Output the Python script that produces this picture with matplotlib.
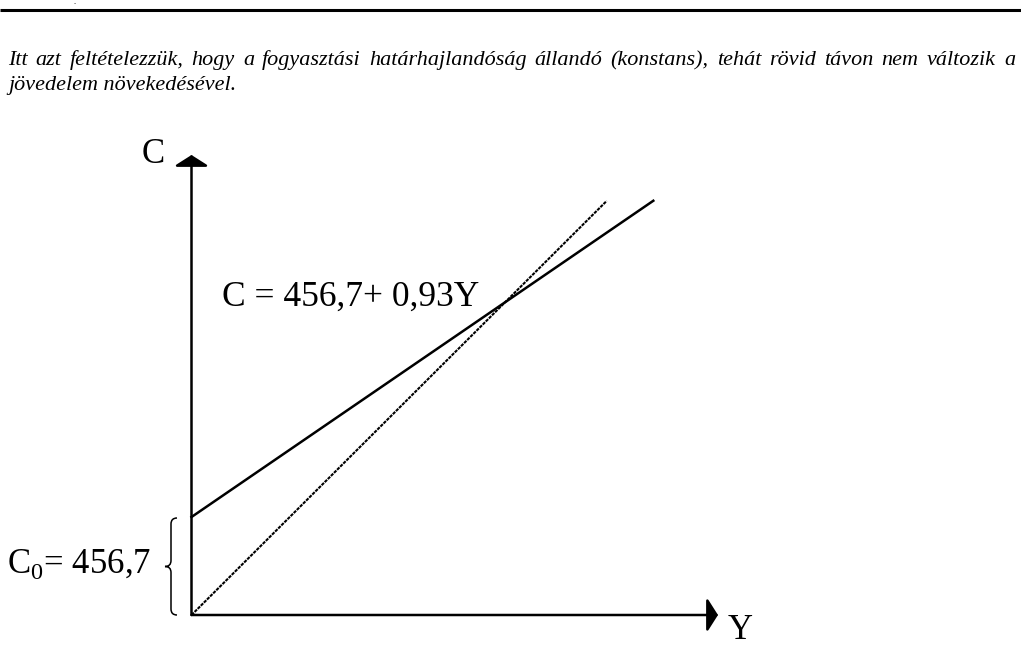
import matplotlib
matplotlib.use("Agg")
import matplotlib.pyplot as plt
from matplotlib.path import Path
from matplotlib.patches import PathPatch

plt.rcParams['font.family'] = ['Liberation Serif', 'DejaVu Serif']
plt.rcParams['mathtext.fontset'] = 'custom'
plt.rcParams['mathtext.rm'] = 'Liberation Serif'

# consumption function C = c0 + mpc * Y
c0 = 456.7
mpc = 0.93
y_end = 1585                      # income where the drawn function stops
ray_end = (1425, 1930)            # end of the dotted reference ray from the origin
x_max, c_max = 1807, 2144         # axis ranges

intro = ["Itt azt feltételezzük, hogy a fogyasztási határhajlandóság állandó (konstans), tehát rövid távon nem változik a",
         "jövedelem növekedésével."]
eq_label = "C = 456,7+ 0,93Y"
c0_label = r"C$_{\mathregular{0}}$= 456,7"

W, H = 1021, 666
fig = plt.figure(figsize=(W / 100, H / 100), dpi=100)

# page layer in pixel coordinates for text and decorations
page = fig.add_axes([0, 0, 1, 1])
page.set_xlim(0, W)
page.set_ylim(H, 0)
page.axis('off')

page.plot([0, W], [10, 10], color='black', lw=2.2, solid_capstyle='butt')
page.text(75, 4, '.', fontsize=6, ha='center', va='baseline')

# justified paragraph: first line stretched to the right margin
renderer = fig.canvas.get_renderer()
left, right = 8, 1015
words = intro[0].split()
objs = [page.text(0, 65, w, fontsize=15.9, style='italic', va='baseline') for w in words]
widths = [o.get_window_extent(renderer).width for o in objs]
gap = (right - left - sum(widths)) / (len(words) - 1)
x = left
for o, w in zip(objs, widths):
    o.set_x(x)
    x += w + gap
page.text(left, 90, intro[1], fontsize=15.9, style='italic', va='baseline')

# diagram axes, origin at the corner of the two axis arrows
ox, oy = 191.5, 615
ax = fig.add_axes([ox / W, 1 - oy / H, (718 - ox) / W, (oy - 155) / H])
ax.set_xlim(0, x_max)
ax.set_ylim(0, c_max)
ax.axis('off')

arrow = dict(arrowstyle='-|>,head_length=0.33,head_width=0.52', color='black',
             lw=1.8, shrinkA=0, shrinkB=0, mutation_scale=20)
ax.annotate('', xy=(1, 0), xytext=(0, 0), xycoords='axes fraction', arrowprops=arrow)
ax.annotate('', xy=(0, 1), xytext=(0, 0), xycoords='axes fraction', arrowprops=arrow)

ax.plot([0, y_end], [c0, c0 + mpc * y_end], color='black', lw=1.8, clip_on=False)
ax.plot([0, ray_end[0]], [0, ray_end[1]], color='black', lw=1.5,
        linestyle=(0, (1.6, 0.5)), clip_on=False)

page.text(142, 163, "C", fontsize=25, va='baseline')
page.text(728, 639, "Y", fontsize=25, va='baseline')
page.text(222, 306, eq_label, fontsize=25.5, va='baseline')
page.text(7, 573, c0_label, fontsize=25, va='baseline')

# brace marking the intercept
bx, tip = 171, 165
top, bot = 518, 615
mid = (top + bot) / 2
verts = [(177, top), (bx, top), (bx, top + 6), (bx, mid - 6),
         (bx, mid), (tip, mid),
         (bx, mid), (bx, mid + 6), (bx, bot - 6),
         (bx, bot), (177, bot)]
codes = [Path.MOVETO, Path.CURVE3, Path.CURVE3, Path.LINETO,
         Path.CURVE3, Path.CURVE3,
         Path.CURVE3, Path.CURVE3, Path.LINETO,
         Path.CURVE3, Path.CURVE3]
page.add_patch(PathPatch(Path(verts, codes), fill=False, lw=1.1, color='black'))

fig.savefig("out.png", dpi=100)
